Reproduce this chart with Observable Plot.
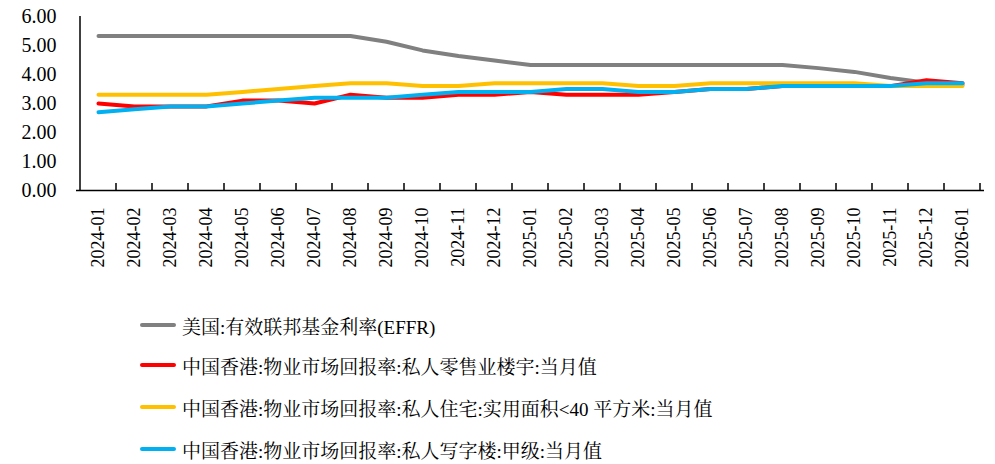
<!DOCTYPE html>
<html><head><meta charset="utf-8">
<script src="https://cdn.jsdelivr.net/npm/d3@7"></script>
<script src="https://cdn.jsdelivr.net/npm/@observablehq/plot@0.6"></script>
<style>
body{margin:0;background:#fff;}
#chart svg{display:block;}
#legend{position:relative;height:174px;}
.row{position:absolute;left:140px;display:flex;align-items:center;height:24px;white-space:nowrap;}
.sw{width:36px;height:4px;margin-right:6px;border-radius:2px;}
</style></head><body>
<div id="chart"></div><div id="legend"></div>
<script>
const months = ["2024-01","2024-02","2024-03","2024-04","2024-05","2024-06","2024-07","2024-08","2024-09","2024-10","2024-11","2024-12",
"2025-01","2025-02","2025-03","2025-04","2025-05","2025-06","2025-07","2025-08","2025-09","2025-10","2025-11","2025-12","2026-01"];
const effr =        [5.33,5.33,5.33,5.33,5.33,5.33,5.33,5.33,5.13,4.83,4.64,4.48,4.33,4.33,4.33,4.33,4.33,4.33,4.33,4.33,4.22,4.09,3.88,3.72,3.64];
const retail =      [3.0,2.9,2.9,2.9,3.1,3.1,3.0,3.3,3.2,3.2,3.3,3.3,3.4,3.3,3.3,3.3,3.4,3.5,3.5,3.6,3.6,3.6,3.6,3.8,3.7];
const residential = [3.3,3.3,3.3,3.3,3.4,3.5,3.6,3.7,3.7,3.6,3.6,3.7,3.7,3.7,3.7,3.6,3.6,3.7,3.7,3.7,3.7,3.7,3.6,3.6,3.6];
const office =      [2.7,2.8,2.9,2.9,3.0,3.1,3.2,3.2,3.2,3.3,3.4,3.4,3.4,3.5,3.5,3.4,3.4,3.5,3.5,3.6,3.6,3.6,3.6,3.7,3.7];
const seriesNames = ["美国:有效联邦基金利率(EFFR)","中国香港:物业市场回报率:私人零售业楼宇:当月值","中国香港:物业市场回报率:私人住宅:实用面积<40 平方米:当月值","中国香港:物业市场回报率:私人写字楼:甲级:当月值"];
const seriesColors = ["#808080","#FF0000","#FFC000","#00B0F0"];
const yTicks = [0,1,2,3,4,5,6];

const seriesValues = [effr, retail, residential, office];
const data = seriesValues.flatMap((vals, s) => vals.map((v, i) => ({month: months[i], value: v, series: seriesNames[s]})));

function axisFrame(index, scales) {
  const x = scales.x, y = scales.y;
  const bw = x(months[1]) - x(months[0]);
  const g = d3.create("svg:g").attr("stroke", "#000").attr("stroke-width", 1.5);
  const x0 = x(months[0]);
  g.append("line").attr("x1", x0).attr("x2", x0).attr("y1", y(6)).attr("y2", y(0));
  const bounds = months.slice(1).map(m => x(m)).concat([x(months[months.length-1]) + bw]);
  for (const b of bounds) {
    g.append("line").attr("x1", b).attr("x2", b).attr("y1", y(0)).attr("y2", y(0) - 7);
  }
  return g.node();
}

const chart = Plot.plot({
  width: 995,
  height: 290,
  marginTop: 16,
  marginBottom: 100,
  marginLeft: 76,
  marginRight: 11,
  style: {fontFamily: "'Liberation Serif', serif", fontSize: "19px", background: "#fff"},
  x: {type: "band", domain: months, padding: 0, label: null},
  y: {domain: [0, 6], label: null},
  color: {domain: seriesNames, range: seriesColors},
  marks: [
    Plot.axisY({ticks: yTicks, tickFormat: d3.format(".2f"), tickSize: 0, tickPadding: 20, label: null, fontSize: 20, fill: "#000"}),
    Plot.axisX({tickSize: 0, tickPadding: 17, tickRotate: -90, label: null, fontSize: 18, fill: "#000"}),
    Plot.ruleY([0], {stroke: "#000", strokeWidth: 1.5}),
    axisFrame,
    Plot.line(data, {x: "month", y: "value", z: "series", stroke: "series", strokeWidth: 4})
  ]
});
document.getElementById("chart").appendChild(chart);

const legend = document.getElementById("legend");
const centers = [35, 75, 117, 159];
seriesNames.forEach((name, i) => {
  const row = document.createElement("div");
  row.className = "row";
  row.style.top = (centers[i] - 12) + "px";
  const sw = document.createElement("span");
  sw.className = "sw";
  sw.style.background = seriesColors[i];
  const t = document.createElement("span");
  t.style.fontFamily = "'Liberation Serif', 'Noto Serif CJK SC', 'Noto Sans CJK SC', serif";
  t.style.fontSize = "19px";
  t.style.color = "#000";
  t.textContent = name;
  row.appendChild(sw); row.appendChild(t);
  legend.appendChild(row);
});
</script>
</body></html>
